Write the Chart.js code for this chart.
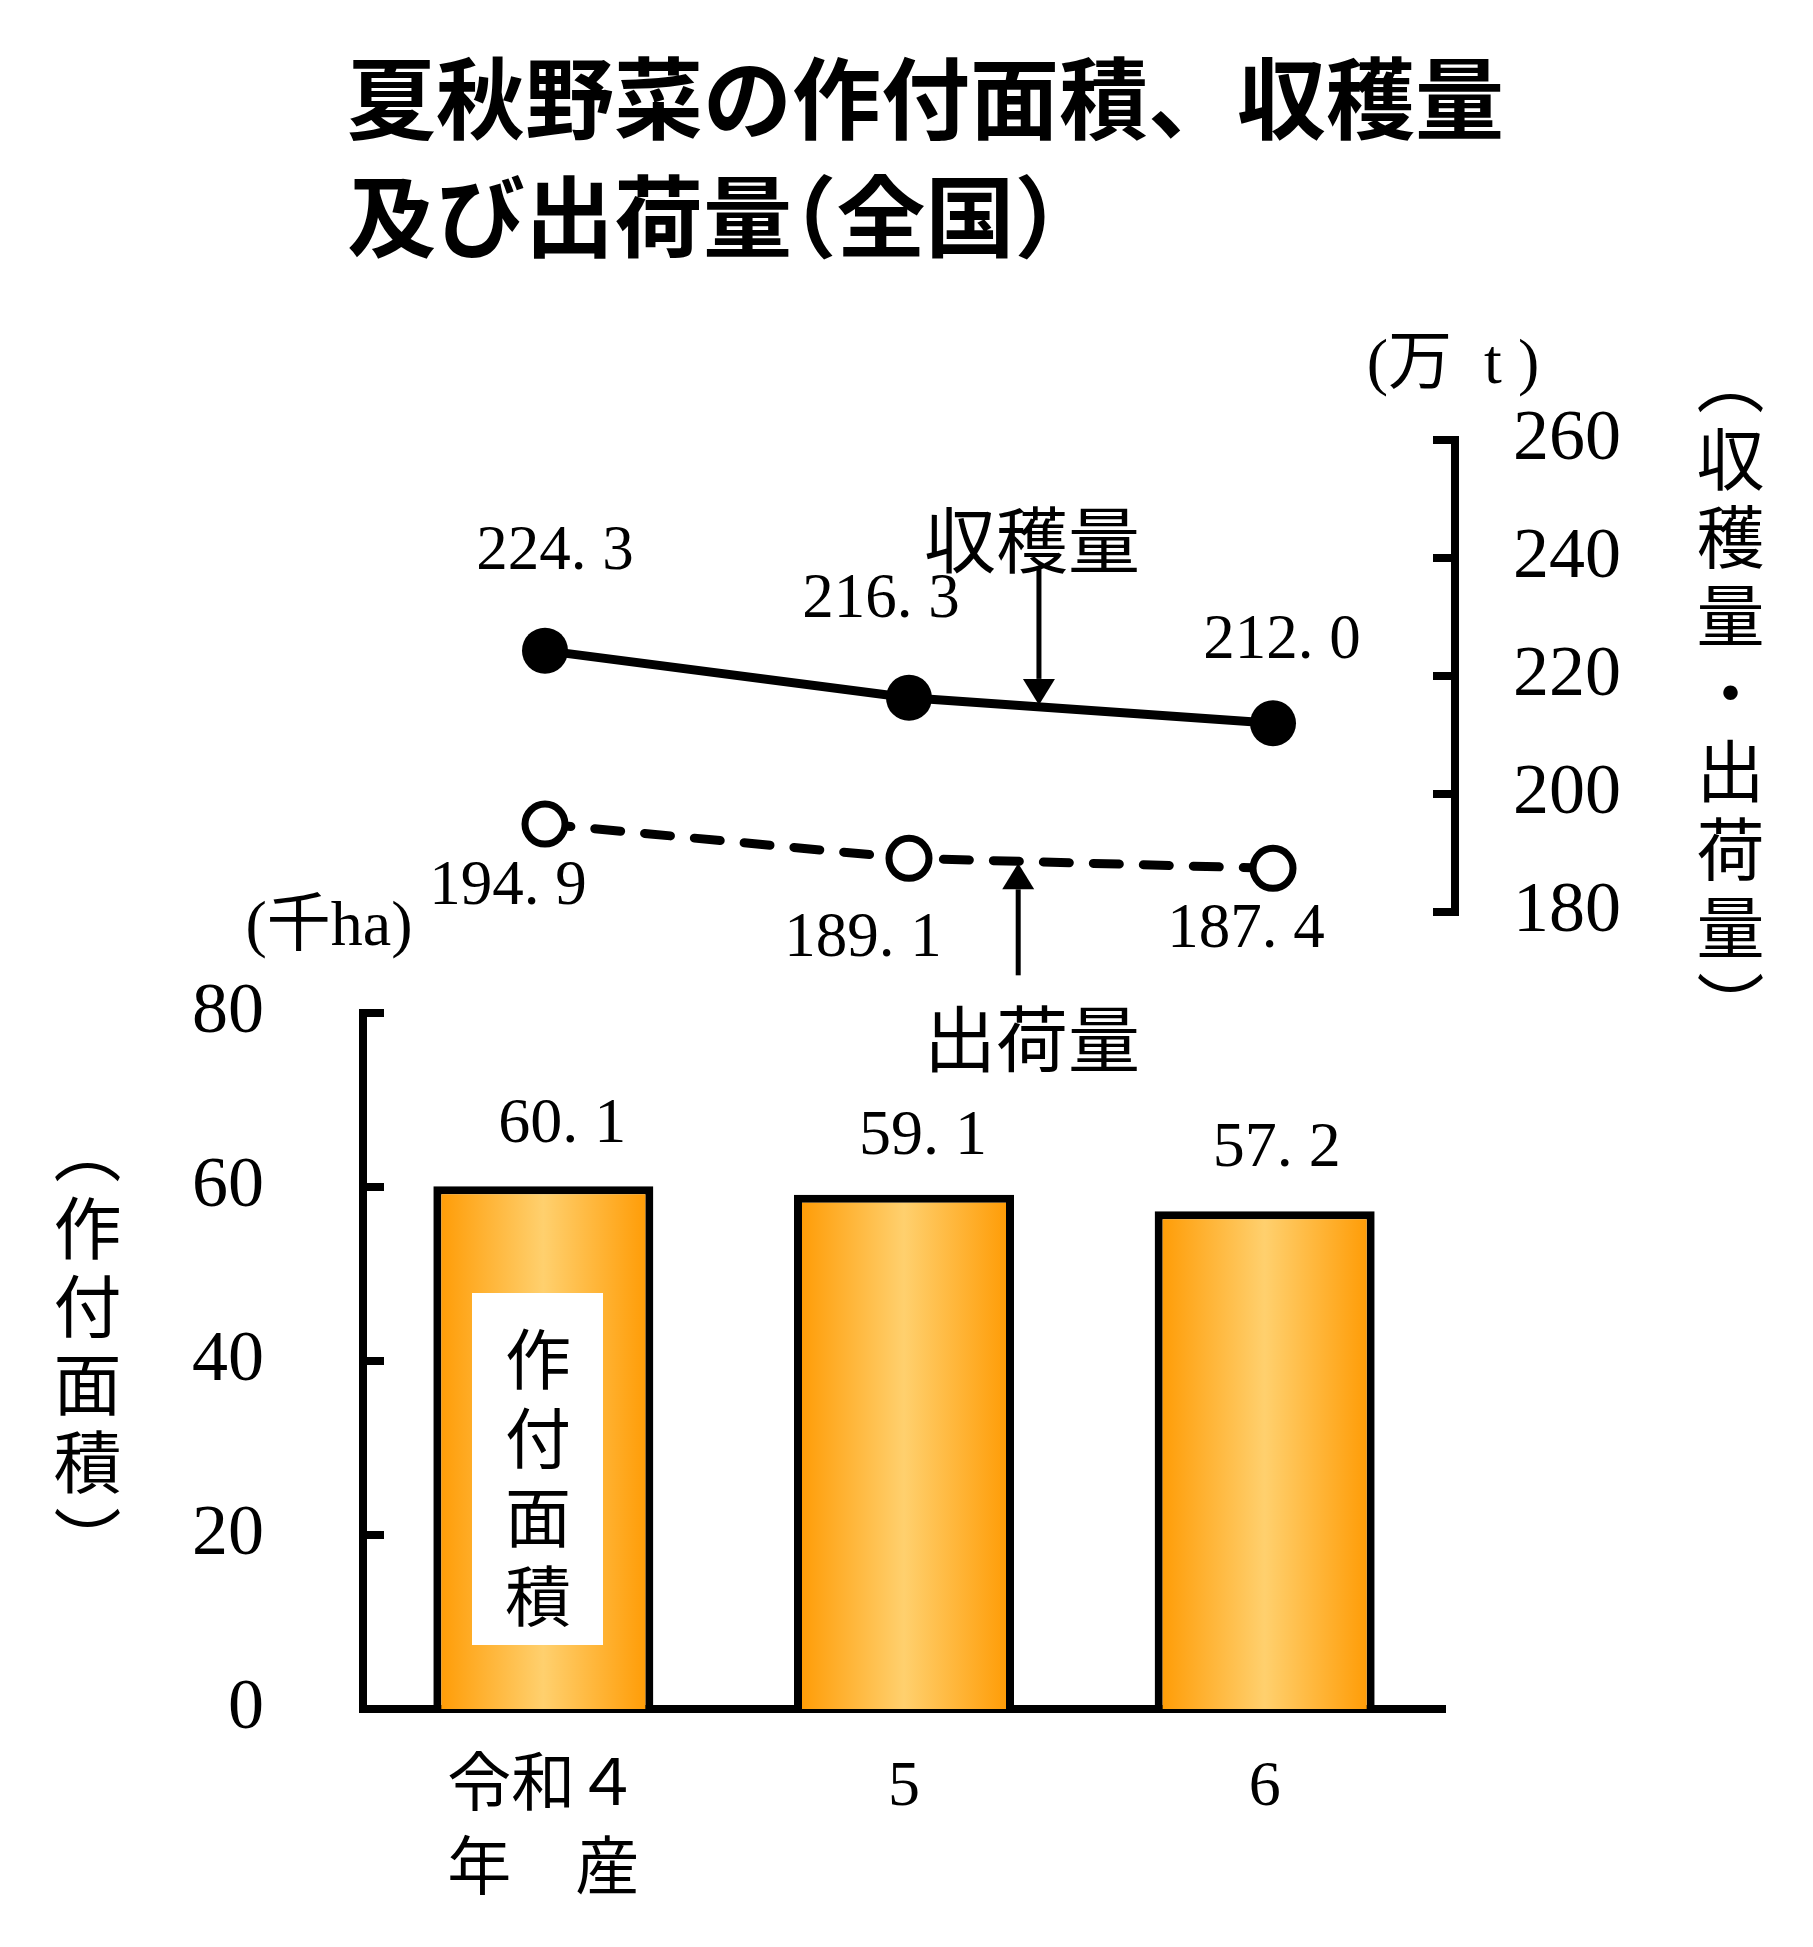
<!DOCTYPE html>
<html lang="ja">
<head>
<meta charset="utf-8">
<title>夏秋野菜の作付面積、収穫量及び出荷量（全国）</title>
<script src="https://cdn.jsdelivr.net/npm/chart.js@4.4.1/dist/chart.umd.min.js"></script>
<style>
  body { margin: 0; background: #fff; }
  #wrap { position: relative; width: 1813px; height: 1947px; background: #fff; overflow: hidden; }
  #wrap canvas { position: absolute; left: 0; top: 0; }
  .t { position: absolute; white-space: nowrap; color: #000; }
  .title { font-family: "Noto Sans CJK JP", sans-serif; font-weight: bold; font-size: 89px; line-height: 89px; }
  .halt { font-feature-settings: "halt"; }
  .c { transform: translate(-50%, -50%); }
  .unit { font-family: "Liberation Serif", "Noto Sans CJK JP", serif; font-size: 64px; line-height: 64px; }
  .note { font-family: "Noto Sans CJK JP", sans-serif; font-size: 72px; line-height: 72px; }
  .vert { font-family: "Noto Sans CJK JP", sans-serif; writing-mode: vertical-rl; font-size: 68px; line-height: 68px; letter-spacing: 10px; }
  #areaBox { position: absolute; left: 472px; top: 1293px; width: 131px; height: 352px; background: #fff; }
</style>
</head>
<body>
<div id="wrap">
  <canvas id="chart-volume" width="1813" height="1947" style="width:1813px;height:1947px"></canvas>
  <canvas id="chart-area" width="1813" height="1947" style="width:1813px;height:1947px"></canvas>

  <div class="t title" style="left:347px; top:49px;">夏秋野菜の作付面積、収穫量</div>
  <div class="t title" style="left:347px; top:167px;">及び出荷量<span class="halt">（</span>全国<span class="halt">）</span></div>

  <div class="t unit c" style="left:1453px; top:362px;">(万&nbsp; t )</div>
  <div class="t unit c" style="left:329px; top:924px;">(千ha)</div>

  <div class="t vert" style="left:1696px; top:347px;">（収穫量・出荷量）</div>
  <div class="t vert" style="left:53px; top:1116px;">（作付面積）</div>

  <div class="t note c" style="left:1032px; top:536px;">収穫量</div>
  <div class="t note c" style="left:1032px; top:1035px;">出荷量</div>

  <div id="areaBox"></div>
  <div class="t vert" style="left:504px; top:1326px; font-size:66px; letter-spacing:13px;">作付面積</div>
</div>

<script>
/* ==========================================================
   DATA
   ==========================================================*/
const years = [["令和４", "年　産"], "5", "6"];
const plantedArea = [60.1, 59.1, 57.2]; // 千ha
const harvest = [224.3, 216.3, 212.0]; // 万t
const shipment = [194.9, 189.1, 187.4]; // 万t
const areaTicks = [0, 20, 40, 60, 80];
const volumeTicks = [180, 200, 220, 240, 260];

// label nudges (px) around each point / bar
const harvestLabelShift = [[10, -98], [-28, -97], [9, -82]];
const shipmentLabelShift = [[-37, 63], [-46, 81], [-27, 62]];
const areaLabelShift = [[19, -61], [19, -58], [12, -62]];

// where the annotation arrows meet the lines (category index)
const harvestArrowAt = 1.357;
const shipmentArrowAt = 1.3;

const serifFamily = '"Liberation Serif", "Noto Sans CJK JP", serif';

/* ==========================================================
   HELPERS / PLUGINS
   ==========================================================*/
// "224.3" -> "224. 3", the spaced-out decimal of the original figure
function fmt(v) {
  return v.toFixed(1).replace(".", ". ");
}

function lerpAt(arr, at) {
  const i = Math.floor(at);
  return arr[i] + (at - i) * (arr[i + 1] - arr[i]);
}

// tick marks that point into the plot, like the bracket axes of the original
const inwardTicks = {
  id: "inwardTicks",
  afterDraw(chart, args, opts) {
    const scale = chart.scales.y;
    const ctx = chart.ctx;
    const right = scale.position === "right";
    const x0 = right ? scale.left : scale.right;
    const dir = right ? -1 : 1;
    ctx.save();
    ctx.strokeStyle = "#000";
    ctx.lineWidth = opts.width;
    scale.ticks.forEach((t) => {
      const y = scale.getPixelForValue(t.value);
      ctx.beginPath();
      ctx.moveTo(x0 - (dir * opts.width) / 2, y);
      ctx.lineTo(x0 + dir * opts.length, y);
      ctx.stroke();
    });
    ctx.restore();
  },
};

const valueLabels = {
  id: "valueLabels",
  afterDatasetsDraw(chart, args, opts) {
    const ctx = chart.ctx;
    ctx.save();
    ctx.fillStyle = "#000";
    ctx.font = opts.font;
    ctx.textAlign = "center";
    ctx.textBaseline = "middle";
    chart.data.datasets.forEach((ds, di) => {
      const meta = chart.getDatasetMeta(di);
      meta.data.forEach((el, i) => {
        const [dx, dy] = opts.shifts[di][i];
        ctx.fillText(fmt(ds.data[i]), el.x + dx, el.y + dy);
      });
    });
    ctx.restore();
  },
};

function drawArrow(ctx, x, tipY, tailY) {
  const dir = tailY < tipY ? 1 : -1; // 1 = pointing down
  const headLen = 26;
  const headHalf = 16;
  ctx.beginPath();
  ctx.moveTo(x, tailY);
  ctx.lineTo(x, tipY - dir * headLen);
  ctx.stroke();
  ctx.beginPath();
  ctx.moveTo(x, tipY);
  ctx.lineTo(x - headHalf, tipY - dir * headLen);
  ctx.lineTo(x + headHalf, tipY - dir * headLen);
  ctx.closePath();
  ctx.fill();
}

const arrows = {
  id: "arrows",
  afterDraw(chart) {
    const ctx = chart.ctx;
    const xs = chart.scales.x;
    const ys = chart.scales.y;
    ctx.save();
    ctx.strokeStyle = "#000";
    ctx.fillStyle = "#000";
    ctx.lineWidth = 5;

    const hx = xs.getPixelForValue(harvestArrowAt);
    const hy = ys.getPixelForValue(lerpAt(harvest, harvestArrowAt));
    drawArrow(ctx, hx, hy - 2, hy - 138);

    const sx = xs.getPixelForValue(shipmentArrowAt);
    const sy = ys.getPixelForValue(lerpAt(shipment, shipmentArrowAt));
    drawArrow(ctx, sx, sy + 2, sy + 114);
    ctx.restore();
  },
};

/* ==========================================================
   CHART: 収穫量・出荷量 (Line, right axis)
   ==========================================================*/
new Chart(document.getElementById("chart-volume"), {
  type: "line",
  data: {
    labels: years,
    datasets: [
      {
        label: "収穫量",
        data: harvest,
        borderColor: "#000",
        borderWidth: 9,
        pointRadius: 23,
        pointBackgroundColor: "#000",
        pointBorderWidth: 0,
        tension: 0,
      },
      {
        label: "出荷量",
        data: shipment,
        borderColor: "#000",
        borderWidth: 9,
        borderDash: [26, 24],
        borderCapStyle: "round",
        pointRadius: 20,
        pointBackgroundColor: "#fff",
        pointBorderColor: "#000",
        pointBorderWidth: 7,
        tension: 0,
      },
    ],
  },
  options: {
    responsive: false,
    animation: false,
    devicePixelRatio: 1,
    layout: { padding: { left: 363, top: 440, right: 0, bottom: 1035 } },
    plugins: {
      legend: { display: false },
      tooltip: { enabled: false },
      inwardTicks: { width: 8, length: 22 },
      valueLabels: {
        font: `63px ${serifFamily}`,
        shifts: [harvestLabelShift, shipmentLabelShift],
      },
    },
    scales: {
      x: { type: "category", offset: true, display: false },
      y: {
        position: "right",
        min: volumeTicks[0],
        max: volumeTicks[volumeTicks.length - 1],
        afterFit: (scale) => { scale.width = 358; },
        afterBuildTicks: (scale) => {
          scale.ticks = volumeTicks.map((v) => ({ value: v }));
        },
        grid: { display: false, drawTicks: false },
        border: { display: true, color: "#000", width: 8 },
        ticks: {
          color: "#000",
          padding: 58,
          font: { family: serifFamily, size: 72 },
        },
      },
    },
  },
  plugins: [inwardTicks, valueLabels, arrows],
});

/* ==========================================================
   CHART: 作付面積 (Bar, left axis)
   ==========================================================*/
const barShare = 0.61;

function barGradient(context) {
  const chart = context.chart;
  if (!chart.chartArea) return "#FFA500";
  const xs = chart.scales.x;
  const cx = xs.getPixelForValue(context.dataIndex);
  const half = ((xs.width / years.length) * barShare) / 2;
  const g = chart.ctx.createLinearGradient(cx - half, 0, cx + half, 0);
  g.addColorStop(0, "#FF9900");
  g.addColorStop(0.5, "#FFD06E");
  g.addColorStop(1, "#FF9900");
  return g;
}

new Chart(document.getElementById("chart-area"), {
  type: "bar",
  data: {
    labels: years,
    datasets: [
      {
        label: "作付面積",
        data: plantedArea,
        backgroundColor: barGradient,
        borderColor: "#000",
        borderWidth: 8,
        borderSkipped: "bottom",
        barPercentage: barShare,
        categoryPercentage: 1,
      },
    ],
  },
  options: {
    responsive: false,
    animation: false,
    devicePixelRatio: 1,
    layout: { padding: { left: 0, top: 1013, right: 368, bottom: 0 } },
    plugins: {
      legend: { display: false },
      tooltip: { enabled: false },
      inwardTicks: { width: 8, length: 21 },
      valueLabels: {
        font: `64px ${serifFamily}`,
        shifts: [areaLabelShift],
      },
    },
    scales: {
      x: {
        afterFit: (scale) => { scale.height = 238; },
        grid: { display: false, drawTicks: false },
        border: { display: true, color: "#000", width: 8 },
        ticks: {
          color: "#000",
          padding: 38,
          maxRotation: 0,
          font: { family: serifFamily, size: 64, lineHeight: 1.3 },
        },
      },
      y: {
        position: "left",
        min: areaTicks[0],
        max: areaTicks[areaTicks.length - 1],
        afterFit: (scale) => { scale.width = 363; },
        afterBuildTicks: (scale) => {
          scale.ticks = areaTicks.map((v) => ({ value: v }));
        },
        grid: { display: false, drawTicks: false },
        border: { display: true, color: "#000", width: 8 },
        ticks: {
          color: "#000",
          padding: 99,
          font: { family: serifFamily, size: 72 },
        },
      },
    },
  },
  plugins: [inwardTicks, valueLabels],
});
</script>
</body>
</html>
